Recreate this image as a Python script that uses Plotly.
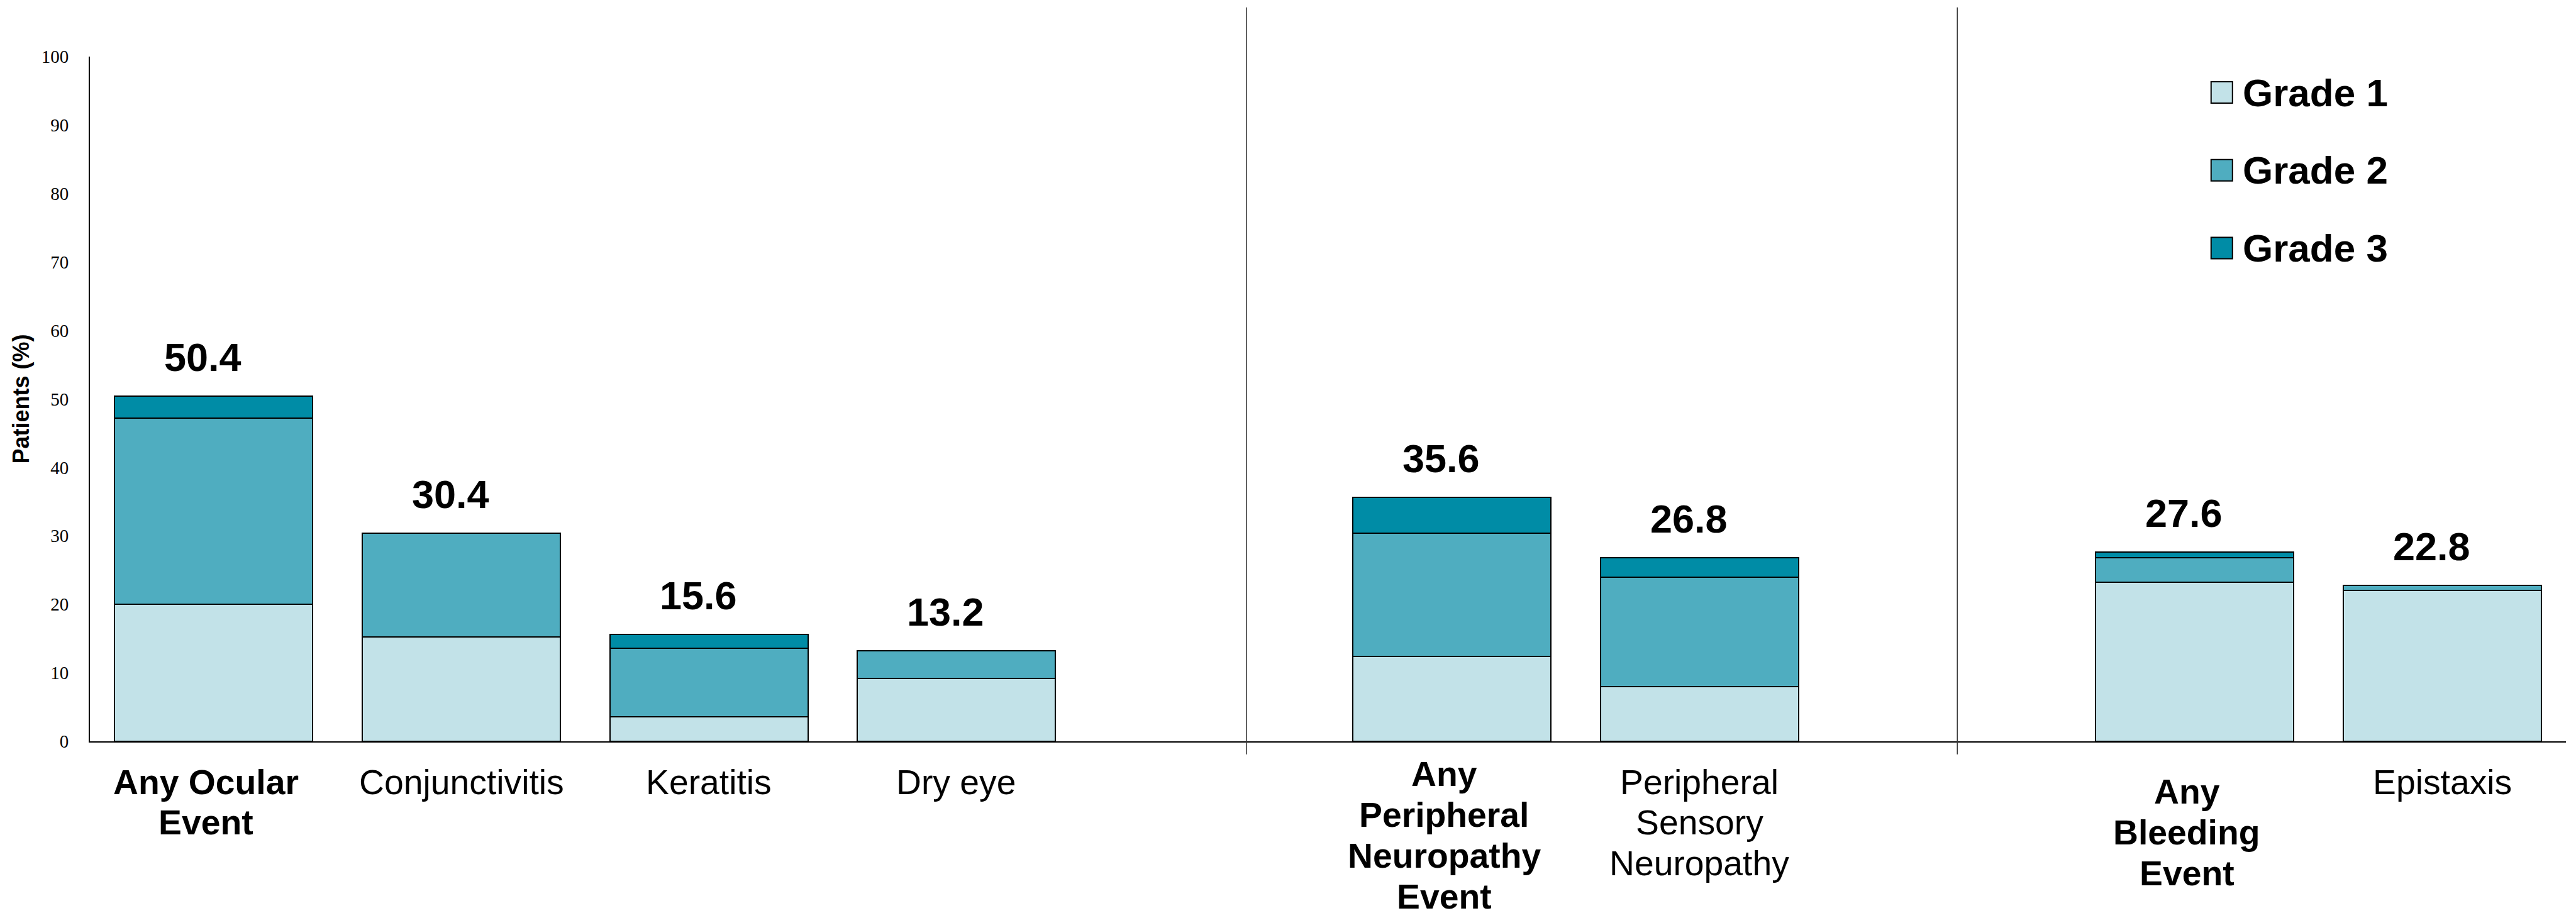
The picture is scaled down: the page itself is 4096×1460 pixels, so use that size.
import plotly.graph_objects as go

# Adverse events by grade (% of patients)
categories = [
    "Any Ocular Event", "Conjunctivitis", "Keratitis", "Dry eye",
    "Any Peripheral Neuropathy Event", "Peripheral Sensory Neuropathy",
    "Any Bleeding Event", "Epistaxis",
]
grade1 = [20.0, 15.2, 3.6, 9.2, 12.4, 8.0, 23.2, 22.0]
grade2 = [27.2, 15.2, 10.0, 4.0, 18.0, 16.0, 3.6, 0.8]
grade3 = [3.2, 0.0, 2.0, 0.0, 5.2, 2.8, 0.8, 0.0]
grade_names = ["Grade 1", "Grade 2", "Grade 3"]

# Category labels as drawn under the axis (bold = overall event rows)
label_text = [
    "Any Ocular<br>Event", "Conjunctivitis", "Keratitis", "Dry eye",
    "Any<br>Peripheral<br>Neuropathy<br>Event", "Peripheral<br>Sensory<br>Neuropathy",
    "Any<br>Bleeding<br>Event", "Epistaxis",
]
label_bold = [True, False, False, False, True, False, True, False]

# Groups of categories, separated by an empty slot and a divider line
groups = [categories[0:4], categories[4:6], categories[6:8]]

# ---- styling ----
COLORS = ["#C2E2E8", "#4FADC0", "#008CA6"]
SANS = "Arial, 'Liberation Sans', sans-serif"
SERIF = "'Times New Roman', 'Liberation Serif', serif"
W, H = 4096, 1460
PLOT_L, PLOT_R, PLOT_T, PLOT_B = 143.4, 4080.2, 89.9, 1179.4


def px_x(px):
    return (px - PLOT_L) / (PLOT_R - PLOT_L)


def px_y(py):
    return (PLOT_B - py) / (PLOT_B - PLOT_T)


# category order with spacer slots between groups
cat_order = []
spacers = []
for gi, g in enumerate(groups):
    cat_order.extend(g)
    if gi < len(groups) - 1:
        sp = " " * (gi + 1)
        spacers.append(len(cat_order))
        cat_order.append(sp)

fig = go.Figure()
for name, vals, col in zip(grade_names, [grade1, grade2, grade3], COLORS):
    fig.add_trace(go.Bar(
        name=name, x=categories, y=vals,
        marker=dict(color=col, line=dict(color="black", width=2)),
        width=0.8, showlegend=False,
    ))

totals = [a + b + c for a, b, c in zip(grade1, grade2, grade3)]

annotations = []
# total value above each bar
for cat, tot in zip(categories, totals):
    annotations.append(dict(
        x=cat, y=tot, xref="x", yref="y", text=f"{tot:.1f}",
        showarrow=False, yanchor="middle", xanchor="center",
        yshift=62, xshift=-17,
        font=dict(family=SANS, size=63, color="black", weight="bold"),
    ))

# category labels, one annotation per line for tight line spacing
LINE_H = 64.8
first_baseline = {"Any Peripheral Neuropathy Event": 71.5, "Any Bleeding Event": 99.4}
for cat, txt, bold in zip(categories, label_text, label_bold):
    base = first_baseline.get(cat, 84.0)
    fs = 55.3
    for li, line in enumerate(txt.split("<br>")):
        baseline = base + li * LINE_H
        annotations.append(dict(
            x=cat, y=0, xref="x", yref="paper", text=line,
            showarrow=False, yanchor="middle", xanchor="center",
            yshift=-(baseline - 0.35 * fs), xshift=(-12 if bold else 0),
            font=dict(family=SANS, size=fs, color="black",
                      weight=("bold" if bold else "normal")),
        ))

# legend drawn as squares + labels
shapes = []
LEG_X0, LEG_X1 = 3516, 3550
leg_y = [147.0, 270.8, 394.6]
for name, col, cy in zip(grade_names, COLORS, leg_y):
    shapes.append(dict(
        type="rect", xref="paper", yref="paper",
        x0=px_x(LEG_X0), x1=px_x(LEG_X1),
        y0=px_y(cy + 17), y1=px_y(cy - 17),
        fillcolor=col, line=dict(color="black", width=2),
    ))
    annotations.append(dict(
        x=px_x(3564), y=px_y(cy), xref="paper", yref="paper", text=name,
        showarrow=False, xanchor="left", yanchor="middle",
        font=dict(family=SANS, size=62, color="black", weight="bold"),
    ))

# divider lines between groups
divider_offsets = [0.171, 0.042]
for idx, off in zip(spacers, divider_offsets):
    shapes.append(dict(
        type="line", xref="x", yref="paper",
        x0=idx + off, x1=idx + off, y0=px_y(PLOT_B + 20.7), y1=px_y(11.5),
        line=dict(color="#3a3a3a", width=1.6),
    ))

fig.update_layout(
    width=W, height=H,
    margin=dict(l=PLOT_L, r=W - PLOT_R, t=PLOT_T, b=H - PLOT_B, autoexpand=False),
    paper_bgcolor="white", plot_bgcolor="white",
    barmode="stack", bargap=0.2,
    annotations=annotations, shapes=shapes,
    showlegend=False,
    xaxis=dict(
        type="category", categoryorder="array", categoryarray=cat_order,
        range=[-0.5, len(cat_order) - 0.5],
        showticklabels=False, ticks="", showgrid=False, zeroline=False,
        showline=True, linecolor="black", linewidth=2.2,
    ),
    yaxis=dict(
        range=[0, 100], dtick=10, tick0=0, showgrid=False, zeroline=False,
        showline=True, linecolor="black", linewidth=2, ticks="",
        tickfont=dict(family=SERIF, size=29, color="black"),
        ticklabelstandoff=26,
        title=dict(text="Patients (%)", standoff=8,
                   font=dict(family=SANS, size=36, color="black", weight="bold")),
    ),
)

fig.write_html("out.html")
